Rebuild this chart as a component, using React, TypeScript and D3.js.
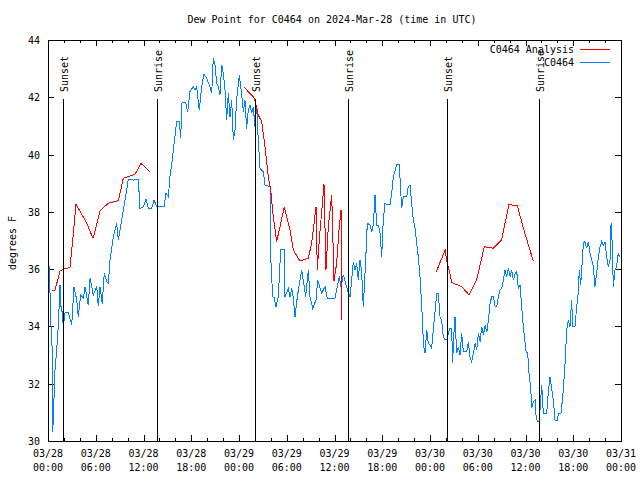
import React from "react";
import * as d3 from "d3";

const TITLE = "Dew Point for C0464 on 2024-Mar-28 (time in UTC)";
const Y_LABEL = "degrees F";
const START = Date.UTC(2024, 2, 28, 0, 0);
const END = Date.UTC(2024, 2, 31, 0, 0);
const Y_TICKS = [30, 32, 34, 36, 38, 40, 42, 44];

// [hours since 03/28 00:00 UTC, degrees F]
const observed: [number, number][] = [
  [0.0, 37.37], [0.05, 36.67], [0.25, 35.17], [0.38, 33.99], [0.54, 33.12], [0.59, 30.32], [0.67, 30.8],
  [0.88, 32.48], [1.09, 33.18], [1.29, 34.0], [1.51, 35.45], [1.63, 34.7], [1.8, 34.47], [1.92, 34.0],
  [2.14, 34.47], [2.55, 34.5], [2.98, 34.05], [3.27, 35.39], [3.61, 34.92], [3.81, 34.34], [4.11, 35.1],
  [4.44, 34.98], [4.65, 35.39], [5.06, 34.75], [5.28, 35.68], [5.69, 35.1], [6.12, 35.39], [6.32, 34.7],
  [6.53, 35.39], [6.82, 34.8], [7.07, 35.85], [7.38, 35.56], [7.58, 35.5], [7.79, 36.32], [8.21, 37.13],
  [8.63, 37.6], [8.83, 37.02], [9.26, 37.72], [9.68, 38.41], [10.09, 39.13], [10.72, 39.11], [11.35, 39.13],
  [11.56, 38.12], [11.98, 38.18], [12.31, 38.44], [12.6, 38.12], [13.03, 38.12], [13.32, 38.41], [13.66, 38.18],
  [14.58, 38.18], [14.83, 38.65], [15.12, 38.53], [15.33, 39.23], [15.54, 39.64], [15.75, 40.16], [16.17, 41.15],
  [16.5, 41.15], [16.67, 40.57], [16.84, 41.82], [17.3, 41.82], [17.55, 41.5], [17.84, 42.2], [18.26, 42.37],
  [18.47, 42.25], [18.68, 42.37], [19.01, 41.56], [19.31, 42.37], [19.6, 42.81], [19.94, 42.66], [20.36, 42.37],
  [20.57, 42.14], [20.77, 43.36], [20.98, 43.13], [21.2, 42.49], [21.4, 42.37], [21.61, 42.08], [21.83, 43.13],
  [22.03, 42.84], [22.24, 42.25], [22.45, 41.21], [22.66, 42.14], [22.87, 41.32], [23.08, 41.9], [23.29, 40.51],
  [23.5, 40.86], [23.71, 41.96], [24.04, 42.78], [24.34, 42.1], [24.54, 41.5], [24.75, 41.9], [24.96, 40.9],
  [25.17, 41.56], [25.38, 41.73], [25.59, 41.44], [25.8, 41.67], [26.0, 40.97], [26.22, 41.67], [26.42, 40.51],
  [26.64, 39.52], [27.05, 39.4], [27.27, 38.94], [27.9, 38.88], [27.98, 36.43], [28.23, 35.04], [28.43, 35.0],
  [28.65, 34.69], [28.94, 35.04], [29.24, 36.67], [29.66, 36.67], [29.78, 35.04], [30.2, 35.33], [30.41, 35.04],
  [30.62, 35.33], [30.82, 35.0], [31.04, 34.34], [31.33, 35.04], [31.88, 35.97], [32.08, 35.6], [32.38, 35.04],
  [32.71, 35.97], [32.92, 35.04], [33.26, 34.63], [33.68, 34.92], [33.89, 35.62], [34.39, 35.16], [34.81, 35.39],
  [35.1, 34.98], [36.06, 34.98], [36.35, 35.39], [36.6, 35.74], [36.82, 35.39], [37.11, 35.8], [37.45, 35.45],
  [37.74, 35.16], [37.95, 35.04], [38.16, 35.62], [38.36, 36.26], [38.58, 35.97], [38.79, 36.2], [38.99, 35.62],
  [39.2, 36.32], [39.41, 35.9], [39.62, 34.69], [39.92, 36.32], [40.12, 37.6], [40.46, 37.54], [40.68, 37.31],
  [40.88, 37.54], [41.09, 38.59], [41.3, 37.54], [41.51, 37.54], [41.72, 37.25], [41.93, 36.43], [42.13, 37.72],
  [42.35, 38.3], [42.56, 38.24], [42.97, 38.24], [43.19, 38.65], [43.39, 39.23], [43.82, 39.64], [44.14, 39.64],
  [44.44, 38.12], [44.65, 38.53], [45.07, 38.53], [45.27, 38.88], [45.49, 38.94], [45.7, 38.3], [45.9, 37.72],
  [46.12, 37.43], [46.33, 36.9], [46.53, 36.43], [46.74, 35.74], [46.96, 34.69], [47.08, 34.11], [47.16, 33.41],
  [47.37, 33.06], [47.59, 33.87], [47.79, 33.41], [48.0, 33.35], [48.21, 33.24], [48.42, 33.9], [48.63, 34.5],
  [48.84, 35.16], [49.04, 35.16], [49.26, 34.34], [49.47, 34.2], [49.67, 33.64], [49.88, 33.53], [50.1, 33.53],
  [50.3, 33.76], [50.51, 33.93], [50.72, 33.93], [50.85, 32.71], [50.93, 33.41], [51.14, 34.34], [51.35, 33.06],
  [51.56, 33.29], [51.77, 33.0], [51.98, 33.76], [52.19, 33.12], [52.61, 33.12], [52.82, 33.47], [53.03, 32.94],
  [53.24, 32.77], [53.45, 33.06], [53.66, 33.41], [53.87, 33.18], [54.08, 33.76], [54.29, 33.47], [54.5, 33.99],
  [54.71, 33.7], [54.92, 34.04], [55.14, 33.8], [55.34, 34.22], [55.55, 34.81], [55.76, 35.04], [55.97, 35.04],
  [56.18, 34.69], [56.39, 34.69], [56.59, 35.04], [56.8, 35.27], [57.01, 35.33], [57.22, 35.62], [57.43, 35.97],
  [57.64, 35.74], [57.85, 36.03], [58.06, 35.74], [58.27, 35.97], [58.48, 35.62], [58.69, 35.85], [58.9, 35.91],
  [59.1, 35.33], [59.31, 35.45], [59.52, 34.69], [59.73, 33.99], [60.07, 33.12], [60.28, 33.06], [60.44, 32.36],
  [60.66, 31.84], [60.78, 31.14], [60.99, 31.37], [61.2, 31.43], [61.32, 30.91], [61.49, 30.67], [61.7, 30.67],
  [61.82, 31.08], [62.04, 31.96], [62.24, 30.97], [62.66, 30.97], [62.87, 31.72], [63.08, 32.24], [63.29, 31.84],
  [63.5, 31.43], [63.71, 30.73], [64.0, 30.73], [64.13, 30.97], [64.46, 30.97], [64.55, 31.2], [64.75, 31.78],
  [64.97, 32.71], [65.18, 33.87], [65.38, 34.22], [65.59, 33.99], [65.8, 34.92], [65.93, 33.99], [66.22, 33.99],
  [66.43, 34.69], [66.63, 35.16], [66.76, 35.97], [66.93, 35.45], [67.06, 35.97], [67.27, 36.9], [67.48, 36.96],
  [67.69, 36.73], [67.9, 36.96], [68.11, 36.55], [68.32, 36.32], [68.52, 36.09], [68.73, 35.39], [68.94, 35.85],
  [69.15, 36.43], [69.36, 36.78], [69.57, 36.96], [69.78, 36.84], [69.99, 36.96], [70.2, 36.43], [70.41, 36.09],
  [70.62, 36.32], [70.75, 37.6], [70.87, 37.02], [71.04, 35.39], [71.25, 35.97], [71.45, 36.09], [71.66, 36.55],
  [71.87, 36.43],
];

const analysisDay1: [number, number][] = [
  [0.54, 35.27], [0.88, 35.27], [1.51, 35.93], [1.92, 36.0], [2.76, 36.06], [3.09, 36.96], [3.52, 38.26],
  [4.65, 37.72], [5.06, 37.48], [5.6, 37.11], [5.7, 37.11], [6.53, 38.04], [7.58, 38.3], [8.84, 38.39],
  [9.46, 39.17], [10.93, 39.31], [11.69, 39.69], [12.82, 39.4],
];
const analysisDay2: [number, number][] = [
  [24.63, 42.35], [25.8, 42.02], [26.0, 41.9], [26.42, 41.38], [26.85, 41.15], [27.27, 40.27], [27.68, 39.23],
  [27.98, 38.76], [28.31, 37.83], [28.73, 36.96], [29.15, 37.48], [29.69, 38.18], [30.41, 37.37], [30.82, 36.67],
  [31.66, 36.28], [32.7, 36.38], [33.13, 36.9], [33.68, 38.18], [33.84, 35.97], [34.09, 37.02], [34.68, 38.97],
  [34.93, 35.97], [35.22, 37.48], [35.65, 38.59], [35.94, 35.6], [36.27, 36.2], [36.6, 37.48], [36.82, 38.06],
  [36.9, 34.22],
];
const analysisDay3: [number, number][] = [
  [48.76, 35.89], [49.9, 36.67], [50.13, 36.26], [50.76, 35.53], [51.98, 35.39], [52.9, 35.1], [53.86, 35.62],
  [54.82, 36.78], [55.96, 36.73], [57.0, 37.02], [57.92, 38.26], [58.97, 38.21], [59.9, 37.27], [60.98, 36.28],
];

const sunEvents: [number, string][] = [
  [1.91, "Sunset"], [13.66, "Sunrise"], [26.0, "Sunset"], [37.74, "Sunrise"], [50.17, "Sunset"], [61.74, "Sunrise"],
];

const legendItems: [string, string][] = [["C0464 Analysis", "#ff0000"], ["C0464", "#0080ff"]];

const FONT = "'DejaVu Sans Mono', monospace";

export default function App() {
  const W = 640, H = 480;
  const m = { left: 48, right: 621, top: 40, bottom: 441 };
  const x = d3.scaleUtc().domain([new Date(START), new Date(END)]).range([m.left, m.right]);
  const y = d3.scaleLinear().domain([30, 44]).range([m.bottom, m.top]);
  const toDate = (h: number) => new Date(START + h * 3600e3);
  const line = d3
    .line<[number, number]>()
    .x((d) => x(toDate(d[0])))
    .y((d) => y(d[1]));

  const major = d3.utcHour.every(6)!.range(new Date(START), new Date(END + 1));
  const minor = d3.utcHour.every(2)!.range(new Date(START), new Date(END + 1));
  const fDay = d3.utcFormat("%m/%d");
  const fTime = d3.utcFormat("%H:%M");

  return (
    <svg width={W} height={H} style={{ position: "absolute", left: 0, top: 0, background: "#fff" }} fontFamily={FONT} fontSize={10}>
      <rect x={0} y={0} width={W} height={H} fill="#fff" />
      <text x={332} y={23} textAnchor="middle" fill="#000">{TITLE}</text>
      <text transform={`translate(16,243) rotate(-90)`} textAnchor="middle" fill="#000">{Y_LABEL}</text>

      <g shapeRendering="crispEdges" stroke="#000" strokeWidth={1}>
        {Y_TICKS.map((t) => (
          <g key={"y" + t}>
            <line x1={m.left} x2={m.left + 6} y1={Math.round(y(t)) + 0.5} y2={Math.round(y(t)) + 0.5} />
            <line x1={m.right - 6} x2={m.right} y1={Math.round(y(t)) + 0.5} y2={Math.round(y(t)) + 0.5} />
          </g>
        ))}
        {minor.map((d, i) => {
          const isMajor = d.getUTCHours() % 6 === 0;
          const len = isMajor ? 6 : 3;
          const xx = Math.round(x(d)) + 0.5;
          return (
            <g key={"x" + i}>
              <line x1={xx} x2={xx} y1={m.bottom} y2={m.bottom - len} />
              <line x1={xx} x2={xx} y1={m.top} y2={m.top + len} />
            </g>
          );
        })}
      </g>

      {Y_TICKS.map((t) => (
        <text key={"yl" + t} x={40} y={y(t) + 4} textAnchor="end" fill="#000">{t}</text>
      ))}
      {major.map((d, i) => (
        <g key={"xl" + i}>
          <text x={x(d)} y={457} textAnchor="middle" fill="#000">{fDay(d)}</text>
          <text x={x(d)} y={471} textAnchor="middle" fill="#000">{fTime(d)}</text>
        </g>
      ))}

      <path d={line(observed) ?? ""} fill="none" stroke={legendItems[1][1]} strokeWidth={1} shapeRendering="crispEdges" />
      {[analysisDay1, analysisDay2, analysisDay3].map((seg, i) => (
        <path key={"a" + i} d={line(seg) ?? ""} fill="none" stroke={legendItems[0][1]} strokeWidth={1} shapeRendering="crispEdges" />
      ))}

      {sunEvents.map(([h, label], i) => {
        const xx = Math.round(x(toDate(h))) + 0.5;
        return (
          <g key={"s" + i}>
            <line x1={xx} x2={xx} y1={99} y2={m.bottom} stroke="#000" strokeWidth={1} shapeRendering="crispEdges" />
            <text transform={`translate(${xx + 4},92) rotate(-90)`} textAnchor="start" fill="#000">{label}</text>
          </g>
        );
      })}

      {legendItems.map(([label, color], i) => (
        <g key={"lg" + i}>
          <text x={574} y={53 + i * 13} textAnchor="end" fill="#000">{label}</text>
          <line x1={580} x2={610} y1={49.5 + i * 13} y2={49.5 + i * 13} stroke={color} strokeWidth={1} shapeRendering="crispEdges" />
        </g>
      ))}

      <rect x={m.left + 0.5} y={m.top + 0.5} width={m.right - m.left} height={m.bottom - m.top} fill="none" stroke="#000" strokeWidth={1} shapeRendering="crispEdges" />
    </svg>
  );
}
